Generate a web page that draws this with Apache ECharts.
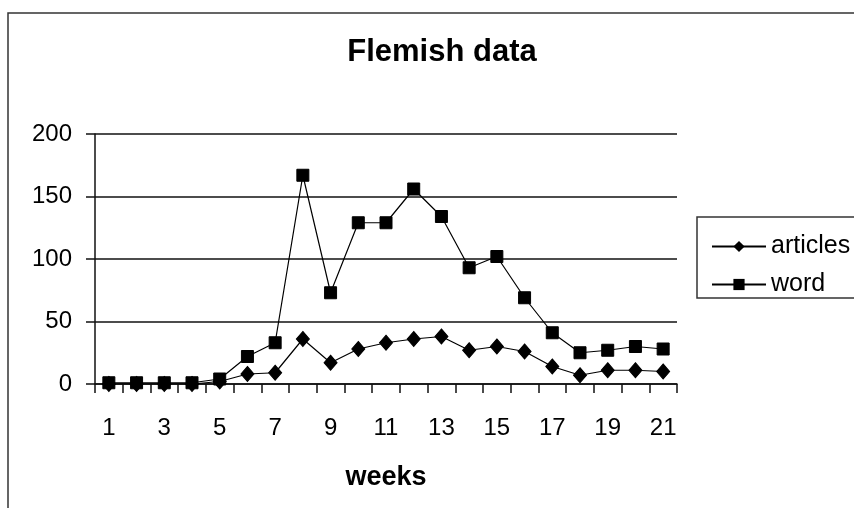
<!DOCTYPE html>
<html>
<head>
<meta charset="utf-8">
<script src="https://cdn.jsdelivr.net/npm/echarts@6/dist/echarts.min.js"></script>
<style>html,body{margin:0;padding:0;background:#fff;}#c{width:854px;height:508px;}</style>
</head>
<body>
<div id="c"></div>
<script>
var weeks = ['1','2','3','4','5','6','7','8','9','10','11','12','13','14','15','16','17','18','19','20','21'];
var articles = [0, 0, 0, 0, 2, 8, 9, 36, 17, 28, 33, 36, 38, 27, 30, 26, 14, 7, 11, 11, 10];
var word = [1, 1, 1, 1, 4, 22, 33, 167, 73, 129, 129, 156, 134, 93, 102, 69, 41, 25, 27, 30, 28];
var yTicks = {min: 0, max: 200, interval: 50};

var chart = echarts.init(document.getElementById('c'), null, {renderer: 'canvas'});
var font = 'Liberation Sans, Arial, sans-serif';
chart.setOption({
  animation: false,
  backgroundColor: '#fff',
  title: {
    text: 'Flemish data',
    left: 437, top: 32, textAlign: 'center',
    textStyle: {fontFamily: font, fontWeight: 'bold', fontSize: 31, color: '#000'}
  },
  grid: {left: 95, right: 177, top: 134, bottom: 124, containLabel: false},
  legend: {
    orient: 'vertical', left: 706, top: 229,
    itemWidth: 54, itemHeight: 14, itemGap: 13,
    textStyle: {fontFamily: font, fontSize: 25, color: '#000', lineHeight: 25},
    data: ['articles', 'word']
  },
  graphic: [
    {type: 'rect', shape: {x: 8, y: 13, width: 900, height: 600}, style: {fill: 'none', stroke: '#333', lineWidth: 1.5}, z: -1},
    {type: 'rect', shape: {x: 697, y: 217, width: 200, height: 81}, style: {fill: 'none', stroke: '#333', lineWidth: 1.5}, z: -1}
  ],
  xAxis: {
    type: 'category', data: weeks, boundaryGap: true,
    name: 'weeks', nameLocation: 'middle', nameGap: 80,
    nameTextStyle: {fontFamily: font, fontWeight: 'bold', fontSize: 27, color: '#000'},
    axisLine: {lineStyle: {color: '#111', width: 1.5}},
    axisTick: {show: true, interval: 0, length: 9, inside: false, lineStyle: {color: '#111', width: 1.5}},
    axisLabel: {interval: 1, margin: 32, fontFamily: font, fontSize: 24, color: '#000'},
    splitLine: {show: false}
  },
  yAxis: {
    type: 'value', min: yTicks.min, max: yTicks.max, interval: yTicks.interval,
    axisLine: {show: true, lineStyle: {color: '#111', width: 1.5}},
    axisTick: {show: true, length: 9, lineStyle: {color: '#111', width: 1.5}},
    axisLabel: {margin: 23, fontFamily: font, fontSize: 24, color: '#000'},
    splitLine: {show: true, lineStyle: {color: '#111', width: 1.5}}
  },
  series: [
    {
      name: 'articles', type: 'line', data: articles,
      symbol: 'diamond', symbolSize: [13, 15], showAllSymbol: true,
      lineStyle: {color: '#000', width: 1.2},
      itemStyle: {color: '#000', borderColor: '#000'}
    },
    {
      name: 'word', type: 'line', data: word,
      symbol: 'rect', symbolSize: 12, showAllSymbol: true,
      lineStyle: {color: '#000', width: 1.2},
      itemStyle: {color: '#000', borderColor: '#000'}
    }
  ]
});
</script>
</body>
</html>
